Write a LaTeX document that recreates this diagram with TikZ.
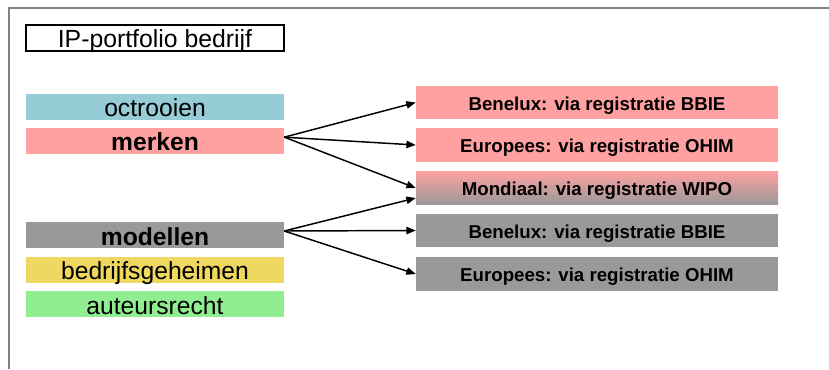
\documentclass[tikz,border=0pt]{standalone}
\usepackage{fontspec}
\setmainfont{Liberation Sans}
\usetikzlibrary{arrows.meta}
\definecolor{roze}{RGB}{255,161,161}
\definecolor{blauw}{RGB}{150,204,214}
\definecolor{grijs}{RGB}{153,153,153}
\definecolor{geel}{RGB}{240,216,96}
\definecolor{groen}{RGB}{144,238,144}
\tikzset{
	soort/.style={rectangle, inner sep=0pt, minimum width=193.5pt, minimum height=19.5pt, text height=15.5pt, text depth=0pt, font=\fontsize{18.5}{20}\selectfont},
	vet/.style={font=\fontsize{18.5}{20}\selectfont\bfseries},
	route/.style={rectangle, inner sep=0pt, minimum width=271.5pt, minimum height=25pt, text height=11.5pt, text depth=0pt, font=\fontsize{14}{16}\selectfont\bfseries}
}

\begin{document}
\begin{tikzpicture}[x=0.75pt, y=-0.75pt, >={Triangle[length=7pt, width=5.5pt]}]
	\useasboundingbox (0,0) rectangle (829,369);
	\draw [grijs!85!black, line width=1.5pt] (9,369) -- (9,8) -- (829,8);
	\node [draw, line width=0.9pt, minimum width=193.5pt, minimum height=19.5pt, inner sep=0pt, text height=13.8pt, text depth=0pt, font=\fontsize{18.6}{20}\selectfont] (titel) at (155,38) {IP-portfolio bedrijf};
	\node [soort, fill=blauw] (octrooien) at (155,106.5) {octrooien};
	\node [soort, vet, fill=roze] (merken) at (155,140.5) {merken};
	\node [soort, vet, fill=grijs] (modellen) at (155,235) {modellen};
	\node [soort, fill=geel] (geheimen) at (155,269.5) {bedrijfsgeheimen};
	\node [soort, fill=groen] (auteursrecht) at (155,304) {auteursrecht};
	\node [route, fill=roze] (BBIE_1) at (597,102.5) {Benelux: via registratie BBIE};
	\node [route, fill=roze] (OHIM_1) at (597,145) {Europees: via registratie OHIM};
	\node [route, top color=roze, middle color=roze, bottom color=grijs] (WIPO) at (597,188) {Mondiaal: via registratie WIPO};
	\node [route, fill=grijs] (BBIE_2) at (597,230.5) {Benelux: via registratie BBIE};
	\node [route, fill=grijs] (OHIM_2) at (597,274) {Europees: via registratie OHIM};
	\coordinate (M) at ([yshift=2.5pt]merken.east);
	\coordinate (D) at ([yshift=3pt]modellen.east);
	\draw [->, line width=1.1pt] (M) -- (BBIE_1.west);
	\draw [->, line width=1.1pt] (M) -- (OHIM_1.west);
	\draw [->, line width=1.1pt] (M) -- (WIPO.west);
	\draw [->, line width=1.1pt] (D) -- ([yshift=-7.5pt]WIPO.west);
	\draw [->, line width=1.1pt] (D) -- (BBIE_2.west);
	\draw [->, line width=1.1pt] (D) -- (OHIM_2.west);
\end{tikzpicture}
\end{document}
